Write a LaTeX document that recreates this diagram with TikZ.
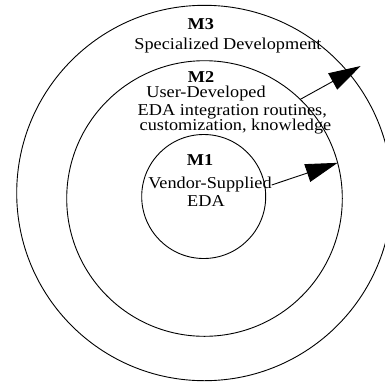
\documentclass[tikz,border=0pt]{standalone}
\usepackage{fontspec}
\setmainfont{Liberation Serif}[FakeStretch=1.1]
\usetikzlibrary{arrows.meta}
\begin{document}
\begin{tikzpicture}[x=1pt,y=-1pt,
  ring/.style={circle,draw,line width=0.9pt,inner sep=0pt,outer sep=0pt},
  lbl/.style={anchor=base,inner sep=0pt,font=\fontsize{16.6}{18}\selectfont},
  hdr/.style={lbl,font=\fontsize{16.6}{18}\selectfont\bfseries},
  link/.style={line width=0.9pt,-{Triangle[length=32pt,width=18.5pt]}}]
\useasboundingbox (0,0) rectangle (385,381);
\node[ring,minimum size=375.4pt] (m3) at (204.4,193) {};
\node[ring,minimum size=275.6pt] (m2) at (204.5,198.5) {};
\node[ring,minimum size=124pt] (m1) at (203.7,196.5) {};
\node[hdr] (t3) at (200.8,29) {M3};
\node[lbl] (s3) at (228,49) {Specialized Development};
\node[hdr] (t2) at (201,82) {M2};
\node[lbl] (s2a) at (206,97) {User-Developed};
\node[lbl] (s2b) at (232.3,115.5) {EDA integration routines,};
\node[lbl] (s2c) at (235.5,130) {customization, knowledge};
\node[hdr] (t1) at (200,165) {M1};
\node[lbl] (s1a) at (210,188) {Vendor-Supplied};
\node[lbl] (s1b) at (206,206.5) {EDA};
\coordinate (a1) at (271.7,185);
\coordinate (e2) at (360.7,66);
\draw[link] (a1) -- (m2.15);
\draw[link] (m2.46.6) -- (e2);
\end{tikzpicture}
\end{document}
